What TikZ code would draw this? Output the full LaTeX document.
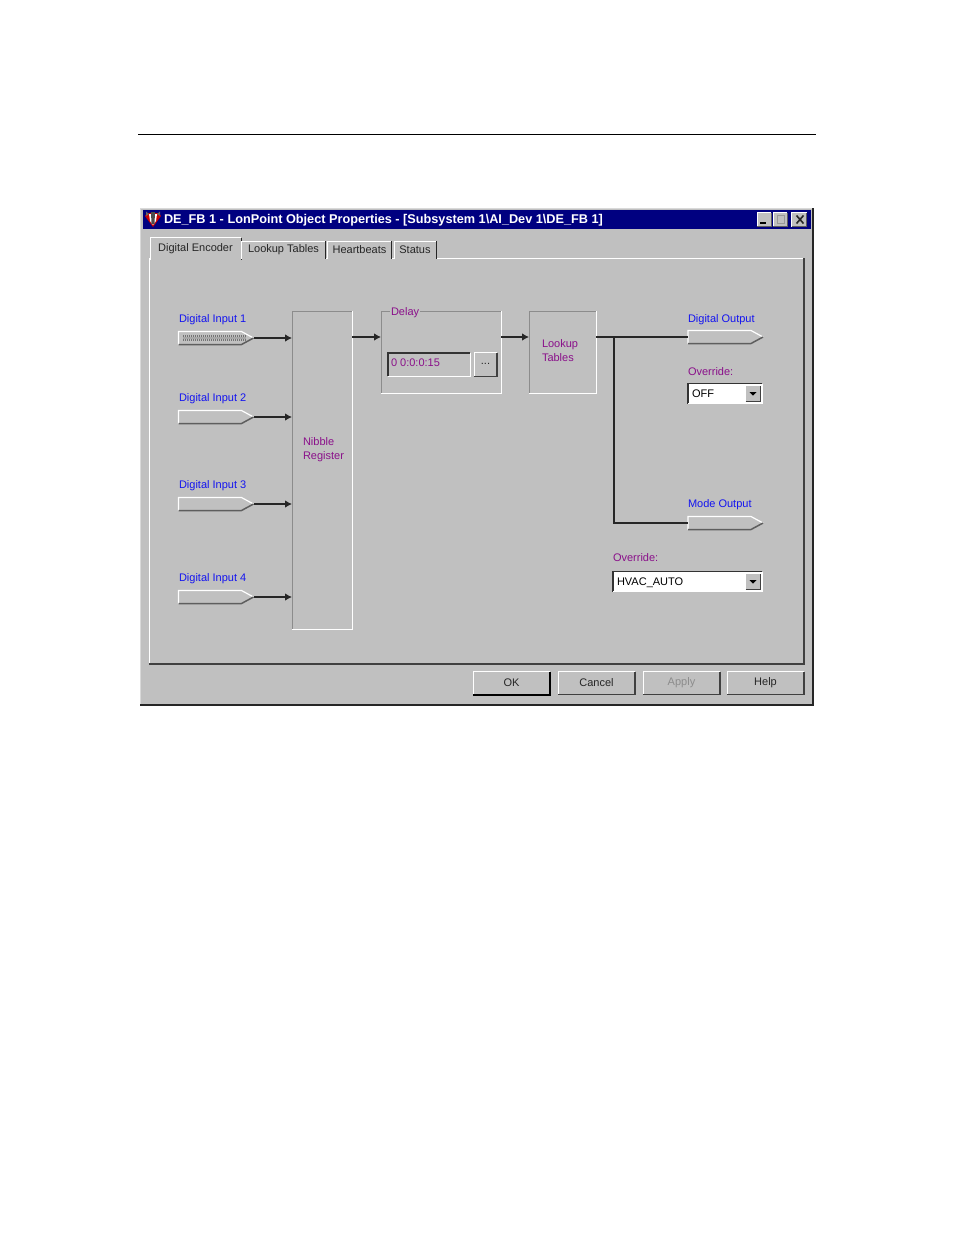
\documentclass[tikz,border=0pt]{standalone}
\usepackage{fontspec}
\setmainfont{Liberation Sans}
\usetikzlibrary{shapes, arrows.meta, positioning}
\definecolor{wingray}{HTML}{C0C0C0}
\definecolor{winshadow}{HTML}{5E5E5E}
\definecolor{winnavy}{HTML}{000080}
\definecolor{winblue}{HTML}{1414F0}
\definecolor{winpurple}{HTML}{8A108A}
\tikzstyle{panel} = [rectangle, fill=wingray, inner sep=0pt, outer sep=0pt, font=\fontsize{11}{14}\selectfont]
\tikzstyle{block} = [panel, text=winpurple, align=left]
\tikzstyle{port} = [rectangle, inner sep=0pt, outer sep=0pt, minimum width=75pt, minimum height=13pt]
\tikzstyle{teks} = [inner sep=0pt, outer sep=0pt, anchor=west, font=\fontsize{11}{14}\selectfont]
\tikzstyle{tekspin} = [teks, text=winblue]
\tikzstyle{tekslabel} = [teks, text=winpurple]
\tikzstyle{wire} = [draw=black!85, line width=1.05pt]
\tikzstyle{tab} = [panel, text=black!85]
\tikzstyle{button} = [panel, text=black!85]
\tikzstyle{combo} = [panel, fill=white, anchor=west]
% two-tone edge of a node
\newcommand{\bevel}[3]{
	\draw[#2, line width=1pt] (#1.south west) |- (#1.north east);
	\draw[#3, line width=1pt] (#1.south west) -| (#1.north east);
}
% the same, with a heavier shadow
\newcommand{\raised}[1]{
	\draw[white, line width=1pt] (#1.south west) |- (#1.north east);
	\draw[black!75, line width=1.4pt] (#1.south west) -| (#1.north east);
}
% input or output pin, pointing right
\newcommand{\pinedge}[1]{
	\draw[white, line width=1.2pt] (#1.south west) -- (#1.north west) -- ++(63,0) -- (#1.east);
	\draw[winshadow, line width=1.5pt] (#1.south west) -- ++(63,0) -- (#1.east);
}
% arrow button of a combo box
\newcommand{\combobutton}[1]{
	\node[panel, minimum width=15pt, minimum height=16pt, left=1.5pt of #1.east] (#1tombol) {};
	\raised{#1tombol}
	\fill[black] ([xshift=-3.5pt,yshift=1.5pt]#1tombol.center) -- ++(7,0) -- ++(-3.5,3.5) -- cycle;
}

\begin{document}
\begin{tikzpicture}[x=1pt, y=-1pt, >={Latex[length=7pt,width=7.5pt]}, node distance=2cm]
	\useasboundingbox (0,0) rectangle (954,1235);
	\fill[white] (0,0) rectangle (954,1235);

	% Page rule
	\coordinate (ruleleft) at (138,134.5);
	\coordinate (ruleright) at (816,134.5);
	\draw[black, line width=0.8pt] (ruleleft) -- (ruleright);

	% Window
	\node[panel, minimum width=673pt, minimum height=497pt] (window) at (476.5,456.5) {};
	\draw[black!15, line width=1pt] (window.south west) |- (window.north east);
	\draw[black!85, line width=1.4pt] (window.south west) -| (window.north east);
	\node[panel, fill=winnavy, minimum width=668pt, minimum height=19pt] (titlebar) at (477,219.5) {};
	\node[teks, text=white, font=\fontsize{12.7}{14}\selectfont\bfseries] (titletext) at (164,220) {DE\_FB 1 - LonPoint Object Properties - [Subsystem 1\textbackslash AI\_Dev 1\textbackslash DE\_FB 1]};
	% Window icon
	\fill[red!80!black] (145,216) -- (153,227) -- (161,216) -- (159,213) -- (147,213) -- cycle;
	\fill[white] (149,214) -- (157,214) -- (156,221) -- (153,225) -- (150,221) -- cycle;
	\fill[black!70] (151,212) -- (155,212) -- (154.5,224) -- (151.5,224) -- cycle;
	\fill[black!60] (146,211.5) -- (149,214) -- (146,216) -- cycle;
	\fill[black!60] (160,211.5) -- (157,214) -- (160,216) -- cycle;

	% Window buttons
	\node[panel, minimum width=14pt, minimum height=14pt] (btnmin) at (764,219.5) {};
	\node[panel, minimum width=14pt, minimum height=14pt, right of=btnmin, node distance=16pt] (btnmax) {};
	\node[panel, minimum width=15pt, minimum height=14pt, right of=btnmax, node distance=19pt] (btnclose) {};
	\bevel{btnmin}{white}{winshadow}
	\bevel{btnmax}{white}{winshadow}
	\bevel{btnclose}{white}{winshadow}
	\fill[black] (760,222) rectangle (766,224);
	\draw[black!40, line width=1pt] (777.5,215.5) rectangle (784.5,223.5);
	\draw[black!85, line width=1.6pt] (796.5,215.5) -- (803.5,223.5) (796.5,223.5) -- (803.5,215.5);

	% Tab page
	\node[panel, minimum width=655pt, minimum height=406pt] (tabpage) at (476.5,461) {};
	\draw[white, line width=1pt] (tabpage.south west) |- (tabpage.north east);
	\draw[black!75, line width=1.4pt] (tabpage.south west) -| (tabpage.north east);

	% Tabs
	\node[tab, minimum width=91pt, minimum height=22pt] (tabencoder) at (195.5,248.5) {\raisebox{-0.5pt}{Digital Encoder}};
	\node[tab, minimum width=84pt, minimum height=18pt] (tablookup) at (283.5,250) {\raisebox{-0.5pt}{Lookup Tables}};
	\node[tab, minimum width=64pt, minimum height=18pt] (tabheart) at (359.5,250) {\raisebox{-0.5pt}{Heartbeats}};
	\node[tab, minimum width=42pt, minimum height=18pt] (tabstatus) at (415,250) {\raisebox{-0.5pt}{Status}};
	\draw[white, line width=1pt] (tabencoder.south west) |- (tabencoder.north east);
	\draw[black!85, line width=1pt] (tabencoder.north east) -- (tabencoder.south east);
	\draw[white, line width=1pt] (tablookup.south west) |- (tablookup.north east);
	\draw[black!85, line width=1pt] (tablookup.north east) -- (tablookup.south east);
	\draw[white, line width=1pt] (tabheart.south west) |- (tabheart.north east);
	\draw[black!85, line width=1pt] (tabheart.north east) -- (tabheart.south east);
	\draw[white, line width=1pt] (tabstatus.south west) |- (tabstatus.north east);
	\draw[black!85, line width=1pt] (tabstatus.north east) -- (tabstatus.south east);

	% Digital inputs
	\node[port] (input1) at (216,338) {};
	\node[port, below of=input1, node distance=79pt] (input2) {};
	\node[port, below of=input2, node distance=87pt] (input3) {};
	\node[port, below of=input3, node distance=93pt] (input4) {};
	\pinedge{input1}
	\pinedge{input2}
	\pinedge{input3}
	\pinedge{input4}
	\draw[black!55, line width=1.6pt, dash pattern=on 1pt off 1pt] (183,336) -- (246,336) (183,340) -- (246,340);
	\fill[black!35] (183,337.3) rectangle (246,338.7);
	\node[tekspin] (teksinput1) at (179,320) {Digital Input 1};
	\node[tekspin] (teksinput2) at (179,399) {Digital Input 2};
	\node[tekspin] (teksinput3) at (179,486) {Digital Input 3};
	\node[tekspin] (teksinput4) at (179,579) {Digital Input 4};

	% Nibble register
	\node[block, minimum width=60pt, minimum height=318pt] (nibble) at (322,470) {};
	\bevel{nibble}{black!45}{white}
	\node[tekslabel, align=left] (teksnibble) at (303,450) {Nibble\\Register};

	% Delay
	\node[block, minimum width=120pt, minimum height=82pt] (delay) at (441,352) {};
	\bevel{delay}{black!45}{white}
	\node[tekslabel, fill=wingray, inner xsep=1pt] (teksdelay) at (390,313) {Delay};
	\node[panel, minimum width=82pt, minimum height=23pt] (delayfield) at (429,364.5) {};
	\draw[black!80, line width=1.4pt] (delayfield.south west) |- (delayfield.north east);
	\draw[white, line width=1pt] (delayfield.south west) -| (delayfield.north east);
	\node[tekslabel] (teksfield) at (391,363) {0 0:0:0:15};
	\node[button, minimum width=23pt, minimum height=24pt, right of=delayfield, node distance=56.5pt] (delaybutton) {\raisebox{1pt}{...}};
	\raised{delaybutton}

	% Lookup tables
	\node[block, minimum width=67pt, minimum height=82pt] (lookup) at (562.5,352) {};
	\bevel{lookup}{black!45}{white}
	\node[tekslabel, align=left] (tekslookup) at (542,350.5) {Lookup\\Tables};

	% Outputs
	\node[port] (digout) at (725.5,337) {};
	\node[port, below of=digout, node distance=186pt] (modeout) {};
	\pinedge{digout}
	\pinedge{modeout}
	\node[tekspin] (teksdigout) at (688,320) {Digital Output};
	\node[tekspin] (teksmodeout) at (688,505) {Mode Output};

	% Override boxes
	\node[tekslabel] (teksoverride1) at (688,371.5) {Override:};
	\node[combo, minimum width=74pt, minimum height=20pt] (combo1) at (688,393.5) {};
	\draw[black!80, line width=1.6pt] (combo1.south west) |- (combo1.north east);
	\draw[white, line width=1pt] (combo1.south west) -| (combo1.north east);
	\node[teks] (teksoff) at (692,393.5) {OFF};
	\combobutton{combo1}
	\node[tekslabel] (teksoverride2) at (613,558) {Override:};
	\node[combo, minimum width=149pt, minimum height=20pt] (combo2) at (613,581.5) {};
	\draw[black!80, line width=1.6pt] (combo2.south west) |- (combo2.north east);
	\draw[white, line width=1pt] (combo2.south west) -| (combo2.north east);
	\node[teks] (tekshvac) at (617,583) {HVAC\_AUTO};
	\combobutton{combo2}

	% Connections
	\draw[->, wire] (input1.east) -- (input1.east -| nibble.west);
	\draw[->, wire] (input2.east) -- (input2.east -| nibble.west);
	\draw[->, wire] (input3.east) -- (input3.east -| nibble.west);
	\draw[->, wire] (input4.east) -- (input4.east -| nibble.west);
	\draw[->, wire] (nibble.east |- digout.west) -- (delay.west |- digout.west);
	\draw[->, wire] (delay.east |- digout.west) -- (lookup.west |- digout.west);
	\draw[wire] (lookup.east |- digout.west) -- (digout.west);
	\coordinate (cabang) at (614,337);
	\draw[wire] (cabang) |- (modeout.west);

	% Dialog buttons
	\node[button, minimum width=77pt, minimum height=23pt] (btnok) at (511.5,683) {\raisebox{-1pt}{OK}};
	\node[button, right of=btnok, node distance=85pt, minimum width=77pt, minimum height=23pt] (btncancel) {\raisebox{-1pt}{Cancel}};
	\node[button, right of=btncancel, node distance=85pt, minimum width=77pt, minimum height=23pt, text=black!45] (btnapply) {\raisebox{-1pt}{Apply}};
	\node[button, right of=btnapply, node distance=84pt, minimum width=77pt, minimum height=23pt] (btnhelp) {\raisebox{-1pt}{Help}};
	\draw[white, line width=1pt] (btnok.south west) |- (btnok.north east);
	\draw[black, line width=2pt] (btnok.south west) -| (btnok.north east);
	\raised{btncancel}
	\raised{btnapply}
	\raised{btnhelp}
\end{tikzpicture}
\end{document}
